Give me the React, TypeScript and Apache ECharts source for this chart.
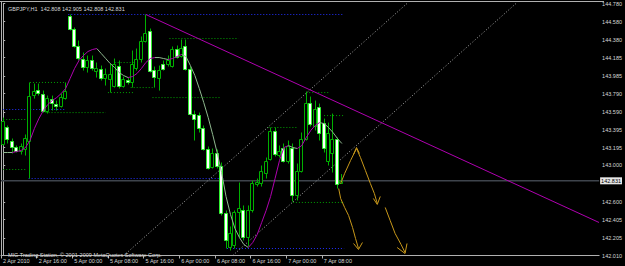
import React, { useEffect, useRef } from 'react';
import * as echarts from 'echarts';

const chartTitle = 'GBPJPY,H1  142.808 142.905 142.808 142.831';
const copyrightText = 'MIG Trading Station, © 2001-2009 MetaQuotes Software Corp.';

const timeLabels = ['2 Apr 2010', '2 Apr 16:00', '5 Apr 00:00', '5 Apr 08:00', '5 Apr 16:00', '6 Apr 00:00', '6 Apr 08:00', '6 Apr 16:00', '7 Apr 00:00', '7 Apr 08:00'];
const timeTickBars = [-0.5, 7.5, 15.5, 23.5, 31.5, 39.5, 47.5, 55.5, 63.5, 71.5];
const priceTicks = [144.78, 144.58, 144.38, 144.185, 143.985, 143.79, 143.59, 143.395, 143.195, 143.0, 142.6, 142.405, 142.205, 142.01];

const opens = [143.241, 143.417, 143.274, 143.208, 143.164, 143.186, 143.274, 143.779, 143.834, 143.790,
  143.603, 143.735, 143.680, 143.658, 143.746, 144.648, 144.505, 144.318, 144.175, 144.087,
  144.164, 144.043, 144.065, 143.966, 143.955, 143.878, 144.098, 143.878, 143.944, 143.912,
  144.076, 144.175, 144.373, 144.483, 144.054, 143.966, 144.120, 144.120, 144.098, 144.285,
  144.208, 144.318, 144.065, 143.570, 143.559, 143.406, 143.186, 142.988, 143.142, 142.999,
  142.472, 142.098, 142.120, 142.483, 142.505, 142.208, 142.505, 142.801, 142.812, 142.922,
  143.076, 143.384, 143.120, 143.197, 143.054, 143.197, 142.670, 142.944, 143.296, 143.691,
  143.428, 143.647, 143.471, 143.054, 143.142, 143.296, 142.808];
const closes = [143.493, 143.296, 143.208, 143.164, 143.219, 143.307, 143.768, 143.823, 143.801, 143.603,
  143.746, 143.691, 143.658, 143.757, 143.823, 144.505, 144.318, 144.186, 144.087, 144.164,
  144.076, 144.076, 143.966, 144.000, 144.010, 144.120, 143.878, 143.955, 143.912, 144.120,
  144.175, 144.373, 144.461, 144.043, 143.977, 144.054, 144.065, 144.164, 144.285, 144.197,
  144.296, 144.065, 143.570, 143.515, 143.406, 143.186, 142.977, 143.142, 142.999, 142.472,
  142.175, 142.252, 142.483, 142.527, 142.208, 142.505, 142.812, 142.823, 142.944, 143.054,
  143.384, 143.131, 143.164, 143.054, 143.219, 142.670, 142.944, 143.296, 143.691, 143.460,
  143.625, 143.362, 143.197, 143.362, 143.296, 142.801, 142.831];
const highs = [143.526, 143.439, 143.296, 143.219, 143.241, 143.340, 143.912, 143.900, 143.900, 143.823,
  143.768, 143.768, 143.713, 143.790, 143.912, 144.659, 144.516, 144.373, 144.241, 144.208,
  144.208, 144.131, 144.098, 144.065, 144.120, 144.175, 144.153, 143.977, 143.966, 144.263,
  144.285, 144.417, 144.659, 144.505, 144.087, 144.098, 144.153, 144.208, 144.307, 144.318,
  144.384, 144.384, 144.087, 143.603, 143.581, 143.439, 143.208, 143.186, 143.175, 143.032,
  142.505, 142.329, 142.505, 142.812, 142.560, 142.560, 142.834, 142.856, 142.999, 143.087,
  143.417, 143.417, 143.219, 143.241, 143.274, 143.241, 143.021, 143.362, 143.812, 143.757,
  143.713, 143.680, 143.515, 143.471, 143.570, 143.307, 142.905];
const lows = [143.219, 143.241, 143.131, 143.142, 143.120, 143.109, 142.856, 143.735, 143.768, 143.581,
  143.570, 143.603, 143.603, 143.636, 143.724, 144.483, 144.296, 144.153, 144.043, 144.021,
  144.043, 143.966, 143.933, 143.878, 143.801, 143.856, 143.845, 143.856, 143.889, 143.856,
  144.043, 144.131, 144.351, 144.021, 143.856, 143.823, 144.043, 144.087, 144.076, 144.175,
  144.186, 144.043, 143.548, 143.274, 143.362, 143.164, 142.955, 142.966, 142.966, 142.450,
  142.087, 142.065, 142.087, 142.208, 142.175, 142.109, 142.483, 142.768, 142.768, 142.856,
  143.054, 143.098, 143.087, 143.032, 143.021, 142.604, 142.615, 142.922, 143.274, 143.428,
  143.384, 143.274, 143.142, 142.999, 142.922, 142.746, 142.808];
const maValues = [143.142, 143.142, 143.142, 143.153, 143.164, 143.197, 143.274, 143.406, 143.515, 143.603,
  143.670, 143.713, 143.746, 143.790, 143.845, 143.955, 144.065, 144.153, 144.208, 144.252,
  144.274, 144.285, 144.230, 144.175, 144.120, 144.076, 144.021, 143.989, 143.966, 143.977,
  144.010, 144.065, 144.131, 144.175, 144.186, 144.186, 144.175, 144.164, 144.175, 144.197,
  144.219, 144.197, 144.098, 143.989, 143.845, 143.691, 143.526, 143.340, 143.142, 142.922,
  142.659, 142.461, 142.307, 142.208, 142.131, 142.098, 142.153, 142.241, 142.373, 142.505,
  142.659, 142.856, 143.054, 143.197, 143.219, 143.197, 143.186, 143.219, 143.307, 143.384,
  143.439, 143.471, 143.460, 143.417, 143.362, 143.296, 143.241];

const lastPrice = 142.831;
const trendLine = [[32, 144.659], [133.7, 142.373]];
const channelUpper = [[27.06, 142.01], [90.6, 144.78]];
const channelLower = [[51.5, 142.01], [115.06, 144.78]];

// [fromBar, toBar, price]
const greenLevels = [
  [6, 14, 143.912], [9.5, 23, 143.581], [0, 5, 143.505], [0, 5, 142.955],
  [25, 29.5, 144.131], [23.5, 29.5, 143.801], [28.6, 34, 143.856], [37.3, 52.8, 144.395],
  [33.5, 48.8, 143.746], [59.5, 66, 143.417], [68, 73, 143.801], [72, 76.5, 143.548], [65, 76.5, 142.593],
];
const blueLevels = [
  [14.6, 76.5, 144.659], [0, 14, 143.615], [5.7, 49.5, 142.856], [50.2, 76.5, 142.087],
];

const arrowStrokes = [
  [[75.72, 142.801], [76.61, 142.911], [77.94, 143.054], [79.28, 143.186], [80.17, 143.087], [81.28, 142.944], [82.39, 142.801], [83.28, 142.692], [83.94, 142.582]],
  [[78.6, 143.120], [79.28, 143.197], [79.94, 143.131]],
  [[83.06, 142.637], [83.94, 142.571], [84.61, 142.659]],
  [[75.28, 142.746], [75.72, 142.637], [76.61, 142.538], [77.5, 142.450], [78.39, 142.318], [79.06, 142.197], [79.72, 142.087]],
  [[78.61, 142.142], [79.72, 142.076], [80.61, 142.153]],
  [[85.72, 142.538], [86.83, 142.395], [87.94, 142.252], [89.28, 142.131], [90.17, 142.043]],
  [[88.39, 142.098], [90.17, 142.032], [90.61, 142.142]],
];

const FONT = 'Liberation Sans';
const AXIS_COLOR = '#b0b0b0';
const TEXT_COLOR = '#d8d8d8';

export default function App() {
  const ref = useRef<HTMLDivElement>(null);
  useEffect(() => {
    if (!ref.current) return;
    const chart = echarts.init(ref.current, null, { renderer: 'svg' });
    const n = maValues.length;
    const upSeg = (i: number) => i >= 0 && i < n - 1 && maValues[i + 1] > maValues[i];
    const downSeg = (i: number) => i >= 0 && i < n - 1 && !(maValues[i + 1] > maValues[i]);
    const maUp = maValues.map((v, i) => [i, upSeg(i - 1) || upSeg(i) ? v : '-']);
    const maDown = maValues.map((v, i) => [i, downSeg(i - 1) || downSeg(i) ? v : '-']);
    const candleData = opens.map((o, i) => [i, o, closes[i], lows[i], highs[i]]);
    const xMax = -0.5 + 604 / 4.5;

    const lineBase = { type: 'line', symbol: 'none', silent: true, animation: false };
    const levelSeries = [
      ...greenLevels.map((l) => ({ ...lineBase, z: 2, data: [[l[0], l[2]], [l[1], l[2]]], lineStyle: { color: '#00a000', width: 1, type: [1, 2] } })),
      ...blueLevels.map((l) => ({ ...lineBase, z: 2, data: [[l[0], l[2]], [l[1], l[2]]], lineStyle: { color: '#2230ff', width: 1, type: [1, 2] } })),
    ];

    chart.setOption({
      animation: false,
      backgroundColor: '#000000',
      title: [
        { text: chartTitle, left: 3, top: 1, textStyle: { color: TEXT_COLOR, fontSize: 5.5, fontWeight: 'normal', fontFamily: FONT } },
        { text: copyrightText, left: 3, top: 247, textStyle: { color: TEXT_COLOR, fontSize: 5.5, fontWeight: 'normal', fontFamily: FONT } },
      ],
      grid: { left: 0, right: 21, top: 3.5, bottom: 10.5 },
      xAxis: {
        type: 'value', min: -0.5, max: xMax,
        splitLine: { show: false },
        axisLine: { show: true, onZero: false, lineStyle: { color: AXIS_COLOR, width: 1 } },
        axisTick: { show: true, customValues: timeTickBars, length: 3, lineStyle: { color: AXIS_COLOR } },
        axisLabel: {
          customValues: timeTickBars, color: TEXT_COLOR, fontSize: 5.5, fontFamily: FONT, align: 'left', margin: 2,
          padding: [0, 0, 0, 2],
          formatter: (v: number) => timeLabels[Math.round((v + 0.5) / 8)] || '',
        },
      },
      yAxis: {
        type: 'value', position: 'right', min: 142.01, max: 144.78,
        splitLine: { show: false },
        axisLine: { show: true, lineStyle: { color: AXIS_COLOR, width: 1 } },
        axisTick: { show: true, customValues: priceTicks, length: 2, lineStyle: { color: AXIS_COLOR } },
        axisLabel: { customValues: priceTicks, color: TEXT_COLOR, fontSize: 5.5, fontFamily: FONT, margin: 3, formatter: (v: number) => v.toFixed(3) },
      },
      graphic: [
        { type: 'line', shape: { x1: 0, y1: 1.5, x2: 604, y2: 1.5 }, style: { stroke: AXIS_COLOR, lineWidth: 1 }, silent: true },
        { type: 'line', shape: { x1: 1.5, y1: 1, x2: 1.5, y2: 256 }, style: { stroke: AXIS_COLOR, lineWidth: 1 }, silent: true },
      ],
      series: [
        {
          ...lineBase, z: 1, data: [[-0.5, lastPrice], [xMax, lastPrice]],
          lineStyle: { color: '#3e444c', width: 1.5 },
          endLabel: {
            show: true, formatter: lastPrice.toFixed(3), backgroundColor: '#e6e6e6', color: '#000',
            fontSize: 5.5, fontFamily: FONT, padding: [1, 1, 0, 1], distance: 1,
          },
        },
        ...levelSeries,
        { ...lineBase, z: 2, data: channelUpper, lineStyle: { color: '#a8a8a8', width: 1, type: [1, 2] } },
        { ...lineBase, z: 2, data: channelLower, lineStyle: { color: '#a8a8a8', width: 1, type: [1, 2] } },
        {
          type: 'custom', z: 3, silent: true, animation: false,
          data: candleData,
          encode: { x: 0, y: [1, 2, 3, 4] },
          renderItem: (params: any, api: any) => {
            const k = api.value(0);
            const o = api.value(1), c = api.value(2), lo = api.value(3), hi = api.value(4);
            const pO = api.coord([k, o]);
            const pC = api.coord([k, c]);
            const pL = api.coord([k, lo]);
            const pH = api.coord([k, hi]);
            const cx = Math.floor(pO[0]) + 0.5;
            const top = Math.round(Math.min(pO[1], pC[1])) + 0.5;
            const bot = Math.round(Math.max(pO[1], pC[1])) + 0.5;
            const bull = c >= o;
            return {
              type: 'group',
              children: [
                { type: 'line', shape: { x1: cx, y1: pH[1], x2: cx, y2: pL[1] }, style: { stroke: '#00b000', lineWidth: 1 } },
                {
                  type: 'rect', shape: { x: cx - 2, y: top, width: 3, height: Math.max(bot - top, 0.5) },
                  style: { fill: bull ? '#000000' : '#ffffff', stroke: bull ? '#00b000' : '#30f030', lineWidth: 1 },
                },
              ],
            };
          },
        },
        { ...lineBase, z: 4, data: maDown, connectNulls: false, lineStyle: { color: '#8fb88f', width: 1 } },
        { ...lineBase, z: 4, data: maUp, connectNulls: false, lineStyle: { color: '#b000b0', width: 1 } },
        { ...lineBase, z: 4, data: trendLine, lineStyle: { color: '#b000b0', width: 1 } },
        ...arrowStrokes.map((s) => ({ ...lineBase, z: 5, data: s, lineStyle: { color: '#c8981a', width: 1 } })),
      ],
    });
    return () => chart.dispose();
  }, []);
  return (
    <div style={{ position: 'fixed', left: 0, top: 0, width: 625, height: 266, background: '#000' }}>
      <div ref={ref} style={{ width: 625, height: 266 }} />
    </div>
  );
}
